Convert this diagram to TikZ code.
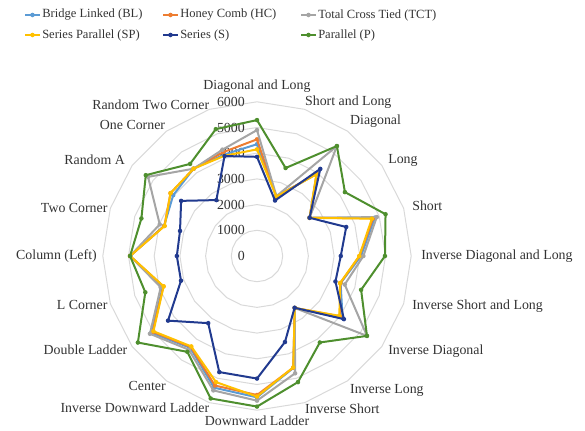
\documentclass[tikz,border=0pt]{standalone}
\usepackage{fontspec}
\setmainfont{Liberation Serif}
\usepackage{xcolor}
\definecolor{colBL}{HTML}{5B9BD5}
\definecolor{colHC}{HTML}{ED7D31}
\definecolor{colTCT}{HTML}{A5A5A5}
\definecolor{colSP}{HTML}{FFC000}
\definecolor{colS}{HTML}{213A8F}
\definecolor{colP}{HTML}{4E8F2E}

\begin{document}
\begin{tikzpicture}[x=0.75pt, y=0.75pt,
    ring/.style={draw=black!15, line width=0.75pt},
    series/.style={line width=1.5pt, line join=round},
    lab/.style={inner sep=0pt, text=black!80, font=\fontsize{10.4}{12}\selectfont},
    leg/.style={inner sep=0pt, text=black!80, font=\fontsize{9.4}{11}\selectfont, anchor=west}]
  \useasboundingbox (-257,-175) rectangle (328,256);

  % rings
  \foreach \r in {1,...,6}
    \draw[ring] (90:\r*25.7) \foreach \k in {1,...,19}{ -- (90-\k*18:\r*25.7)} -- cycle;

  % axis values
  \foreach \v [count=\i from 0] in {0,1000,...,6000}
    \node[lab, anchor=east] (v\i) at (-12,\i*25.7) {\v};

  % category labels
  \foreach \a/\r/\anc/\txt [count=\i from 0] in {
      90/163/south/Diagonal and Long, 72/155/south west/Short and Long,
      54/158/south west/Diagonal, 36/162/west/Long, 18/163/west/Short,
      0/164/west/Inverse Diagonal and Long, -18/163/west/Inverse Short and Long,
      -36/162/west/Inverse Diagonal, -54/158/north west/Inverse Long,
      -72/155/north west/Inverse Short, -90/160/north/Downward Ladder,
      -108/154/north east/Inverse Downward Ladder, -126/155/north east/Center,
      -144/160/east/Double Ladder, -162/157/east/L Corner, 180/160/east/Column (Left),
      162/157/east/Two Corner, 144/163/east/Random A, 126/156/south east/One Corner,
      108/154/south east/Random Two Corner}
    \node[lab, anchor=\anc] (cat\i) at (\a:\r) {\txt};

  % series
  \foreach \col/\vals in {
      colBL/{4350,2430,3950,2530,4820,4050,3420,4120,2500,4580,5500,5390,4420,5080,3850,4940,3800,4030,4200,4150},
      colHC/{4540,2430,3960,2530,4750,3990,3410,3990,2500,4570,5410,5300,4380,5020,3830,4940,3790,4160,4200,4250},
      colTCT/{4900,2450,5290,2530,4900,4140,3590,5290,2500,4800,5630,5500,4510,5150,3940,4940,3980,5240,4200,4350},
      colSP/{4150,2430,3930,2530,4700,3980,3400,3960,2500,4560,5470,5160,4350,4980,3820,4940,3780,4160,4200,4100},
      colS/{3860,2270,4190,2530,3650,3260,3210,4180,2490,3520,4770,4750,3230,4280,3110,3120,3150,3650,2690,4090},
      colP/{5290,3600,5290,4230,5260,4980,4260,5290,4160,5160,5860,5830,4610,5730,4570,4940,4730,5350,4430,5190}} {
    \foreach \v [count=\k from 0] in \vals
      \coordinate (p\k) at (90-\k*18:\v*0.0257);
    \draw[series, \col] (p0) \foreach \k in {1,...,19}{ -- (p\k)} -- cycle;
    \foreach \k in {0,...,19}
      \fill[\col] (p\k) circle (1.7pt);
  }

  % legend
  \foreach \col/\x/\y/\txt [count=\i] in {
      colBL/-215/241/Bridge Linked (BL), colHC/-77/241/Honey Comb (HC),
      colTCT/61/241/Total Cross Tied (TCT), colSP/-215/221/Series Parallel (SP),
      colS/-77/221/Series (S), colP/61/221/Parallel (P)} {
    \node[leg] (leg\i) at (\x,\y) {\txt};
    \draw[\col, line width=1.5pt] ([xshift=-1.5pt]leg\i.west) -- ++(-15,0);
    \fill[\col] ([xshift=-7.125pt]leg\i.west) circle (1.7pt);
  }
\end{tikzpicture}
\end{document}
